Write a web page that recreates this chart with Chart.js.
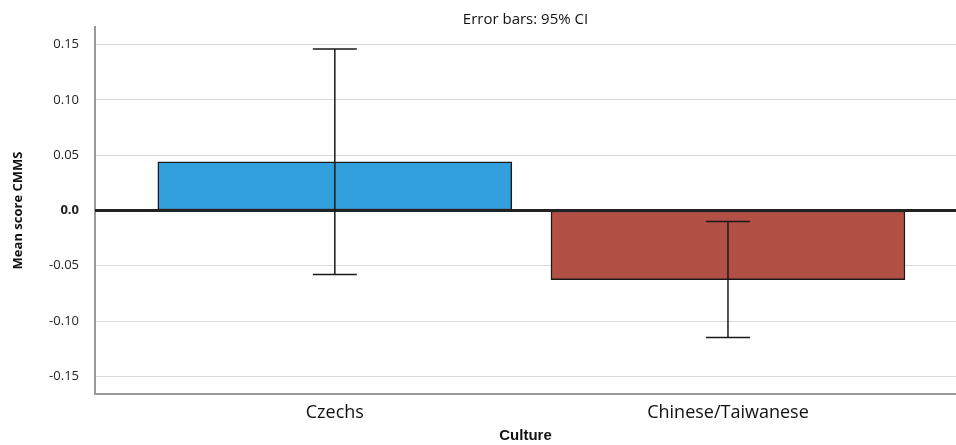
<!DOCTYPE html>
<html>
<head>
<meta charset="utf-8">
<script src="https://cdn.jsdelivr.net/npm/chart.js@4"></script>
<style>
  html, body { margin: 0; padding: 0; background: #fff; }
  #wrap { width: 956px; height: 445px; }
</style>
</head>
<body>
<div id="wrap"><canvas id="barChart"></canvas></div>
<script>
const cultures = ["Czechs", "Chinese/Taiwanese"];
const meanScores = [0.044, -0.0625];
const ciLower = [-0.058, -0.115];
const ciUpper = [0.146, -0.010];
const yTickValues = [-0.15, -0.10, -0.05, 0, 0.05, 0.10, 0.15];
const yTickLabels = ["-0.15", "-0.10", "-0.05", "0.0", "0.05", "0.10", "0.15"];
const barColors = ["#319fdc", "#b35046"];

// error bars + the heavy zero line, drawn on top of the bars
const errorBars = {
    id: "errorBars",
    afterDatasetsDraw(chart) {
        const { ctx, chartArea, scales: { x, y } } = chart;
        ctx.save();
        ctx.strokeStyle = "#222";
        ctx.lineWidth = 3;
        const zero = y.getPixelForValue(0);
        ctx.beginPath();
        ctx.moveTo(chartArea.left, zero);
        ctx.lineTo(chartArea.right, zero);
        ctx.stroke();

        ctx.strokeStyle = "#1a1a1a";
        ctx.lineWidth = 1.5;
        cultures.forEach((c, i) => {
            const px = x.getPixelForValue(i + 1);
            const top = y.getPixelForValue(ciUpper[i]);
            const bottom = y.getPixelForValue(ciLower[i]);
            ctx.beginPath();
            ctx.moveTo(px, top);
            ctx.lineTo(px, bottom);
            ctx.moveTo(px - 22, top);
            ctx.lineTo(px + 22, top);
            ctx.moveTo(px - 22, bottom);
            ctx.lineTo(px + 22, bottom);
            ctx.stroke();
        });
        ctx.restore();
    }
};

Chart.defaults.font.family = "'Open Sans', sans-serif";

const chart = new Chart(document.getElementById("barChart"), {
    type: "bar",
    data: {
        datasets: [{
            data: meanScores.map((v, i) => ({ x: i + 1, y: v })),
            backgroundColor: barColors,
            borderColor: "#1a1a1a",
            borderWidth: 1.5,
            borderSkipped: false,
            barThickness: 354
        }]
    },
    options: {
        responsive: true,
        maintainAspectRatio: false,
        animation: false,
        layout: { padding: 0 },
        plugins: {
            legend: { display: false },
            tooltip: { enabled: false },
            title: {
                display: true,
                text: "Error bars: 95% CI",
                fullSize: false,
                color: "#111",
                font: { size: 15, weight: "normal", lineHeight: 1 },
                padding: { top: 12, bottom: 0 }
            }
        },
        scales: {
            x: {
                type: "linear",
                offset: false,
                min: 0.39,
                max: 2.58,
                afterBuildTicks: s => { s.ticks = cultures.map((c, i) => ({ value: i + 1 })); },
                afterFit: s => { s.height = 51; },
                ticks: {
                    callback: (v, i) => cultures[i],
                    font: { size: 18 },
                    color: "#111",
                    padding: 0,
                    autoSkip: false,
                    maxRotation: 0
                },
                grid: { display: false },
                border: { display: true, color: "#999", width: 2 },
                title: {
                    display: true,
                    text: "Culture",
                    color: "#111",
                    font: { family: "'Liberation Sans', Arial, sans-serif", size: 15, weight: "bold" },
                    padding: { top: 0, bottom: 0 }
                }
            },
            y: {
                min: -0.166,
                max: 0.166,
                afterBuildTicks: s => { s.ticks = yTickValues.map(v => ({ value: v })); },
                afterFit: s => { s.width = 95; },
                ticks: {
                    callback: (v, i) => yTickLabels[i],
                    font: ctx => ({ size: 13, weight: ctx.tick && ctx.tick.value === 0 ? "bold" : "normal" }),
                    color: "#222",
                    padding: 16
                },
                grid: {
                    color: "#d9d9d9",
                    lineWidth: 1,
                    drawTicks: false
                },
                border: { color: "#999", width: 2 },
                title: {
                    display: true,
                    text: "Mean score CMMS",
                    color: "#111",
                    font: { size: 13, weight: "bold" },
                    padding: { top: 10, bottom: 0 }
                }
            }
        }
    },
    plugins: [errorBars]
});
</script>
</body>
</html>
